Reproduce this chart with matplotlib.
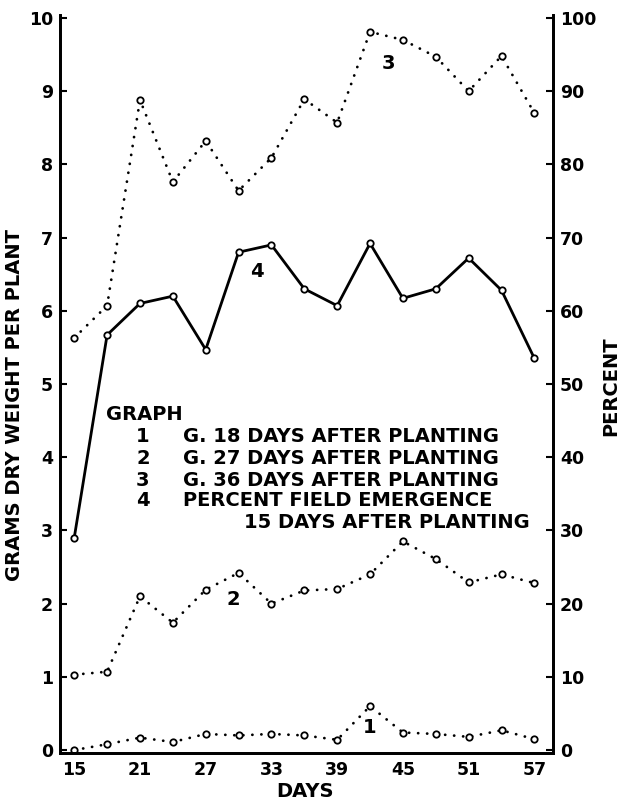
import numpy as np
import matplotlib
matplotlib.use("Agg")
import matplotlib.pyplot as plt

# Data
days = [15, 18, 21, 24, 27, 30, 33, 36, 39, 42, 45, 48, 51, 54, 57]
graph1 = [0.0, 0.08, 0.17, 0.11, 0.22, 0.20, 0.22, 0.20, 0.14, 0.60, 0.24, 0.22, 0.18, 0.27, 0.15]
graph2 = [1.03, 1.07, 2.10, 1.74, 2.19, 2.42, 2.00, 2.18, 2.20, 2.40, 2.85, 2.61, 2.29, 2.40, 2.28]
graph3 = [5.63, 6.07, 8.88, 7.76, 8.32, 7.64, 8.09, 8.89, 8.57, 9.81, 9.70, 9.47, 9.00, 9.48, 8.70]
graph4 = [29.0, 56.7, 61.0, 62.0, 54.7, 68.0, 69.0, 63.0, 60.7, 69.2, 61.7, 63.0, 67.2, 62.8, 53.5]

x_ticks = [15, 21, 27, 33, 39, 45, 51, 57]
left_ticks = list(range(0, 11))
right_ticks = list(range(0, 101, 10))

legend_nums = ["1", "2", "3", "4"]
legend_text = ["G. 18 DAYS AFTER PLANTING", "G. 27 DAYS AFTER PLANTING",
               "G. 36 DAYS AFTER PLANTING", "PERCENT FIELD EMERGENCE"]

plt.rcParams["font.family"] = "DejaVu Sans"
plt.rcParams["font.weight"] = "bold"
FS = 12.5     # tick labels
LFS = 14      # key and axis titles (original lettering is widely spaced)

fig = plt.figure(figsize=(6.23, 8.05), dpi=100)
ax = fig.add_axes([60 / 623, 1 - 753 / 805, 493 / 623, 738 / 805])
ax2 = ax.twinx()

dot = dict(color="black", lw=2.0, linestyle=(0, (0.05, 3.2)), dash_capstyle="round",
           marker="o", ms=4.6, mfc="white", mec="black", mew=1.3)
ax.plot(days, graph1, **dot)
ax.plot(days, graph2, **dot)
ax.plot(days, graph3, **dot)
ax2.plot(days, graph4, color="black", lw=2.0, marker="o", ms=4.6, mfc="white",
         mec="black", mew=1.3)

ax.set_xlim(13.7, 58.7)
ax.set_ylim(-0.04, 10.04)
ax2.set_ylim(-0.4, 100.4)

ax.set_xticks(x_ticks)
ax.set_yticks(left_ticks)
ax2.set_yticks(right_ticks)
ax.set_xticklabels([str(d) for d in x_ticks], fontsize=FS, fontweight="bold")
ax.set_yticklabels([str(v) for v in left_ticks], fontsize=FS, fontweight="bold")
ax2.set_yticklabels([str(v) for v in right_ticks], fontsize=FS, fontweight="bold")

for a in (ax, ax2):
    a.spines["top"].set_visible(False)
    for s in a.spines.values():
        s.set_linewidth(2.0)
ax.tick_params(axis="y", direction="in", length=5, width=1.5, pad=5)
ax.tick_params(axis="x", length=0, pad=6)
ax2.tick_params(axis="y", direction="in", length=5, width=1.5, pad=5)

# curve numbers
ax.text(43.7, 9.38, "3", fontsize=LFS, fontweight="bold", ha="center", va="center")
ax.text(31.7, 6.54, "4", fontsize=LFS, fontweight="bold", ha="center", va="center")
ax.text(29.5, 2.05, "2", fontsize=LFS, fontweight="bold", ha="center", va="center")
ax.text(42.0, 0.31, "1", fontsize=LFS, fontweight="bold", ha="center", va="center")

# key
ax.text(0.093, 0.458, "GRAPH", transform=ax.transAxes, fontsize=LFS,
        fontweight="bold", ha="left", va="center")
rows = [0.4295, 0.3997, 0.3699, 0.3415]
for yy, n, t in zip(rows, legend_nums, legend_text):
    ax.text(0.168, yy, n, transform=ax.transAxes, fontsize=LFS, fontweight="bold",
            ha="center", va="center")
    ax.text(0.2495, yy, t, transform=ax.transAxes, fontsize=LFS, fontweight="bold",
            ha="left", va="center")
ax.text(0.953, 0.313, "15 DAYS AFTER PLANTING", transform=ax.transAxes,
        fontsize=LFS, fontweight="bold", ha="right", va="center")

fig.text(15 / 623, 1 - 405 / 805, "GRAMS DRY WEIGHT PER PLANT", rotation=90,
         fontsize=LFS, fontweight="bold", ha="center", va="center")
fig.text(611 / 623, 1 - 386 / 805, "PERCENT", rotation=90,
         fontsize=LFS, fontweight="bold", ha="center", va="center")
fig.text(305 / 623, 1 - 791 / 805, "DAYS", fontsize=LFS, fontweight="bold",
         ha="center", va="center")

fig.savefig("out.png", dpi=100)
